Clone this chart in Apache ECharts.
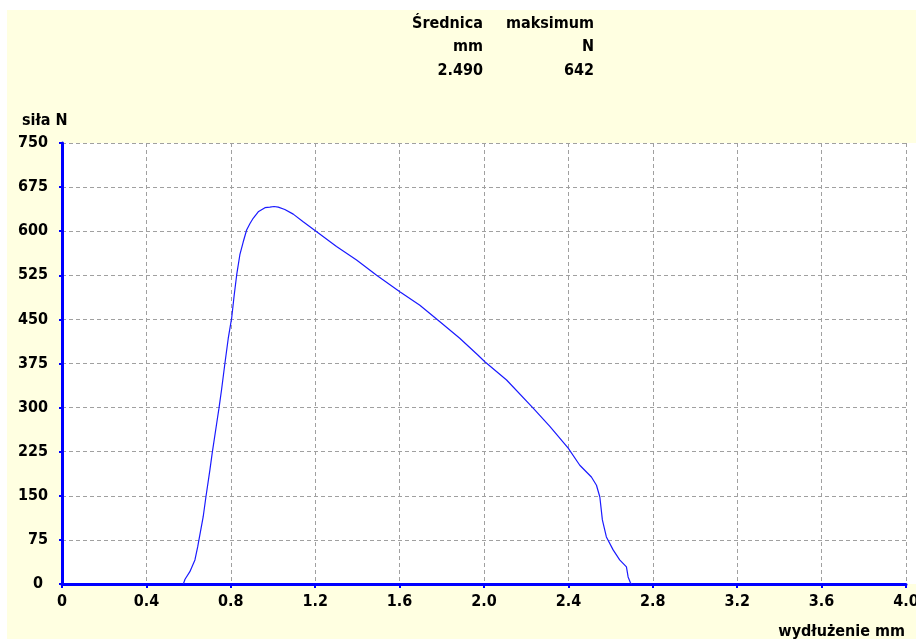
<!DOCTYPE html>
<html>
<head>
<meta charset="utf-8">
<script src="https://cdn.jsdelivr.net/npm/echarts@6/dist/echarts.min.js"></script>
<style>
html,body{margin:0;padding:0;background:#ffffff;}
#chart{width:916px;height:639px;}
</style>
</head>
<body>
<div id="chart"></div>
<script>
// elongation (mm) and force (N)
const elongation = [0.575, 0.583, 0.606, 0.630, 0.643, 0.649, 0.669, 0.682, 0.701, 0.712, 0.733, 0.744, 0.756, 0.772, 0.788, 0.804, 0.816, 0.828, 0.843, 0.859, 0.875, 0.891, 0.906, 0.930, 0.962, 0.985, 1.005, 1.025, 1.056, 1.096, 1.143, 1.207, 1.301, 1.396, 1.491, 1.601, 1.696, 1.791, 1.885, 1.972, 2.004, 2.107, 2.233, 2.312, 2.399, 2.454, 2.509, 2.533, 2.549, 2.561, 2.580, 2.612, 2.643, 2.675, 2.683, 2.694, 2.700];
const force = [0, 8, 21, 41, 63, 75, 114, 148, 194, 223, 273, 299, 330, 375, 418, 452, 491, 526, 560, 582, 602, 613, 622, 633, 640, 641, 642, 641, 637, 629, 616, 599, 574, 551, 525, 497, 474, 446, 418, 389, 378, 347, 299, 268, 231, 202, 182, 168, 148, 109, 80, 58, 41, 29, 12, 2, 0];

const headerCols = ['Średnica', 'maksimum'];
const headerUnits = ['mm', 'N'];
const headerValues = ['2.490', '642'];

const yAxisTitle = 'siła N';
const xAxisTitle = 'wydłużenie mm';
const xMin = 0, xMax = 4, xStep = 0.4;
const yMin = 0, yMax = 750, yStep = 75;

const FONT = '"DejaVu Sans Condensed", "DejaVu Sans", sans-serif';
const FW = 'bold';
const chart = echarts.init(document.getElementById('chart'), null, {renderer: 'canvas'});

const colRight = [483, 594];
const rowY = [24, 47, 71];
const headerTexts = [];
[headerCols, headerUnits, headerValues].forEach((row, r) => {
  row.forEach((t, c) => {
    headerTexts.push({
      type: 'text', x: colRight[c], y: rowY[r], z: 5,
      style: {text: t, font: FW + ' 16px ' + FONT, fill: '#000', textAlign: 'right', textVerticalAlign: 'middle'}
    });
  });
});

chart.setOption({
  animation: false,
  backgroundColor: '#ffffff',
  grid: {left: 62, right: 10, top: 143, bottom: 55, containLabel: false, outerBoundsMode: 'none'},
  graphic: [
    {type: 'rect', z: -10, silent: true, shape: {x: 7, y: 10, width: 909, height: 629}, style: {fill: '#FFFFE1'}},
    {type: 'rect', z: -9, silent: true, shape: {x: 62, y: 143, width: 854, height: 441}, style: {fill: '#ffffff'}},
    ...headerTexts,
    {type: 'text', x: 22, y: 121, z: 5, style: {text: yAxisTitle, font: FW + ' 16px ' + FONT, fill: '#000', textAlign: 'left', textVerticalAlign: 'middle'}},
    {type: 'text', x: 905, y: 632, z: 5, style: {text: xAxisTitle, font: FW + ' 16px ' + FONT, fill: '#000', textAlign: 'right', textVerticalAlign: 'middle'}}
  ],
  xAxis: {
    type: 'value', min: xMin, max: xMax, interval: xStep,
    axisLine: {show: true, onZero: false, lineStyle: {color: '#0000ff', width: 3}},
    axisTick: {show: true, inside: false, length: 4, lineStyle: {color: '#0000ff', width: 2}},
    axisLabel: {color: '#000', fontFamily: FONT, fontWeight: FW, fontSize: 16, margin: 10,
      formatter: v => v === 0 ? '0' : v.toFixed(1)},
    splitLine: {show: true, lineStyle: {color: '#a0a0a0', type: [4, 3], width: 1}}
  },
  yAxis: {
    type: 'value', min: yMin, max: yMax, interval: yStep,
    axisLine: {show: true, onZero: false, lineStyle: {color: '#0000ff', width: 3}},
    axisTick: {show: true, inside: false, length: 3, lineStyle: {color: '#0000ff', width: 2}},
    axisLabel: {color: '#000', fontFamily: FONT, fontWeight: FW, fontSize: 16, margin: 14,
      formatter: v => v === 0 ? '0 ' : String(v)},
    splitLine: {show: true, lineStyle: {color: '#a0a0a0', type: [4, 3], width: 1}}
  },
  series: [{
    type: 'line',
    data: elongation.map((x, i) => [x, force[i]]),
    showSymbol: false,
    smooth: false,
    lineStyle: {color: '#1a1aff', width: 1.2},
    z: 3
  }]
});
</script>
</body>
</html>
